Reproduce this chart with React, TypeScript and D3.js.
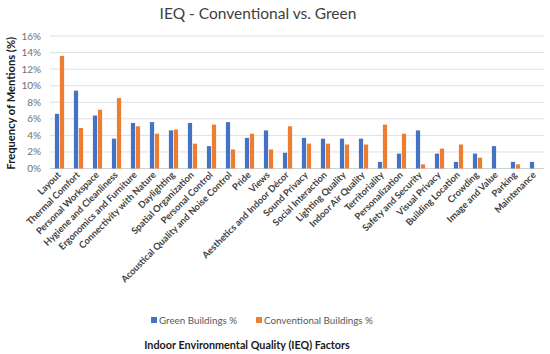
import React from "react";
import * as d3 from "d3";

const categories = [
  "Layout", "Thermal Comfort", "Personal Workspace", "Hygiene and Cleanliness",
  "Ergonomics and Furniture", "Connectivity with Nature", "Daylighting",
  "Spatial Organization", "Personal Control", "Acoustical Quality and Noise Control",
  "Pride", "Views", "Aesthetics and Indoor Décor", "Sound Privacy",
  "Social Interaction", "Lighting Quality", "Indoor Air Quality", "Territoriality",
  "Personalization", "Safety and Security", "Visual Privacy", "Building Location",
  "Crowding", "Image and Value", "Parking", "Maintenance",
];
const greenValues = [
  6.6, 9.4, 6.4, 3.6, 5.5, 5.6, 4.6, 5.5, 2.7, 5.6, 3.7, 4.6, 1.9, 3.7,
  3.6, 3.6, 3.6, 0.8, 1.8, 4.6, 1.8, 0.8, 1.8, 2.7, 0.8, 0.8,
];
const conventionalValues = [
  13.6, 4.9, 7.1, 8.5, 5.1, 4.2, 4.7, 3.0, 5.3, 2.3, 4.2, 2.3, 5.1, 3.0,
  3.0, 2.9, 2.9, 5.3, 4.2, 0.5, 2.4, 2.9, 1.3, 0, 0.5, 0,
];
const yTicks = [0, 2, 4, 6, 8, 10, 12, 14, 16];
const seriesNames = ["Green Buildings %", "Conventional Buildings %"];
const colors = ["#4472C4", "#ED7D31"];

const FONT = "Lato, 'Open Sans', sans-serif";

export default function App() {
  const W = 550, H = 354;
  const left = 50, right = 544, top = 36, bottom = 168.5;
  const x = d3.scaleBand<string>().domain(categories).range([left, right]);
  const y = d3.scaleLinear().domain([0, 16]).range([bottom, top]);
  const bw = x.bandwidth();
  const barW = 4.2;
  const gap = 0.8;

  return (
    <svg width={W} height={H} style={{ position: "absolute", left: 0, top: 0, background: "#fff" }}
      fontFamily={FONT}>
      <rect x={0} y={0} width={W} height={H} fill="#fff" />
      <text x={258} y={19} textAnchor="middle" fontSize={15.5} fill="#404040">IEQ - Conventional vs. Green</text>
      {yTicks.map((t) => (
        <g key={t}>
          <line x1={left} x2={right} y1={y(t)} y2={y(t)} stroke={t === 0 ? "#D0D0D0" : "#E0E0E0"} strokeWidth={1} />
          <text x={41} y={y(t) + 3.5} textAnchor="end" fontSize={10} fill="#707070">{t}%</text>
        </g>
      ))}
      <text transform={`translate(15,${(top + bottom) / 2 + 1}) rotate(-90)`} textAnchor="middle"
        fontSize={11.2} fontWeight="bold" fill="#1a1a1a">Frequency of Mentions (%)</text>
      {categories.map((c, i) => {
        const cx = (x(c) as number) + bw / 2;
        return (
          <g key={c}>
            <rect x={cx - gap / 2 - barW} y={y(greenValues[i])} width={barW}
              height={bottom - y(greenValues[i])} fill={colors[0]} />
            {conventionalValues[i] > 0 && (
              <rect x={cx + gap / 2} y={y(conventionalValues[i])} width={barW}
                height={bottom - y(conventionalValues[i])} fill={colors[1]} />
            )}
            <text transform={`translate(${cx + 2},${bottom + 7}) rotate(-45)`} textAnchor="end"
              fontSize={9.3} fontWeight="bold" fill="#404040">{c}</text>
          </g>
        );
      })}
      <g>
        <rect x={151} y={317} width={6} height={6} fill={colors[0]} />
        <text x={159} y={323.5} fontSize={9.8} fill="#595959">{seriesNames[0]}</text>
        <rect x={256} y={317} width={6} height={6} fill={colors[1]} />
        <text x={264} y={323.5} fontSize={9.8} fill="#595959">{seriesNames[1]}</text>
      </g>
      <text x={247} y={349} textAnchor="middle" fontSize={10.8} fontWeight="bold" fill="#1a1a1a">
        Indoor Environmental Quality (IEQ) Factors
      </text>
    </svg>
  );
}
